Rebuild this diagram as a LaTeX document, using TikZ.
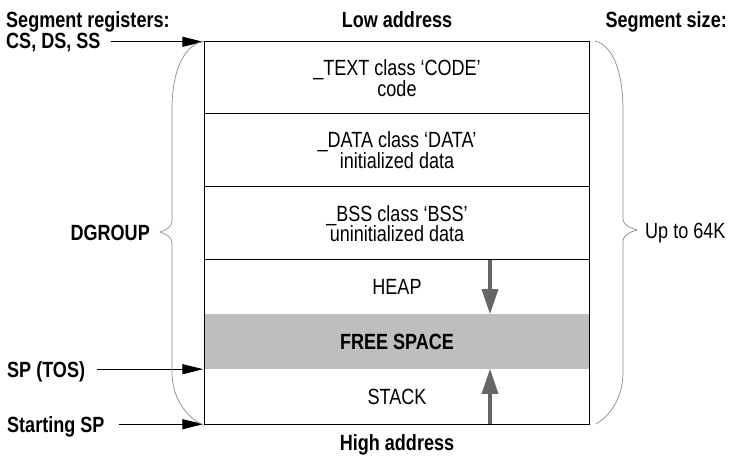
\documentclass[tikz,border=0pt]{standalone}
\usepackage{fontspec}
\setmainfont{Liberation Sans}[FakeStretch=0.82]
\usetikzlibrary{arrows.meta}
\definecolor{freegray}{HTML}{BEBEBE}
\definecolor{growgray}{HTML}{666666}
\definecolor{bracegray}{HTML}{8A8A8A}
\begin{document}
\begin{tikzpicture}[x=1pt,y=-1pt,
  every node/.style={font=\fontsize{22}{20.5}\selectfont, inner sep=0pt},
  lbl/.style={font=\fontsize{22}{20.5}\selectfont\bfseries},
  rowbox/.style={minimum width=384pt, align=center, inner sep=0pt},
  ptr/.style={-{Triangle[length=21pt,width=10pt]}, line width=1.2pt, shorten >=1.5pt},
  growth/.style={-{Triangle[length=25pt,width=16pt]}, line width=3.2pt, draw=growgray, fill=growgray},
  brace/.style={draw=bracegray, line width=0.7pt},
  frame/.style={line width=1.1pt},
  sep/.style={line width=0.9pt}]
\useasboundingbox (0,0) rectangle (731,456);

% memory segments, low address at the top
\node[rowbox, minimum height=72pt] (text) at (397,78) {\_TEXT class ‘CODE’\\code};
\node[rowbox, minimum height=73pt] (data) at (397,150) {\_DATA class ‘DATA’\\initialized data};
\node[rowbox, minimum height=74pt] (bss) at (397,223.5) {\_BSS class ‘BSS’\\uninitialized data};
\node[rowbox, minimum height=54pt] (heap) at (397,287) {HEAP};
\node[rowbox, minimum height=55pt, fill=freegray] (free) at (397,341.5) {\bfseries FREE SPACE};
\node[rowbox, minimum height=55pt] (stack) at (397,396.5) {STACK};

% separators and outer frame
\draw[sep] (data.north west) -- (data.north east);
\draw[sep] (bss.north west) -- (bss.north east);
\draw[sep] (heap.north west) -- (heap.north east);
\draw[frame] (text.north west) rectangle (stack.south east);

% heap grows down, stack grows up
\draw[growth] ([xshift=93pt]heap.north) -- ([xshift=93pt]heap.south);
\draw[growth] ([xshift=93pt]stack.south) -- ([xshift=93pt]stack.north);

% headings
\node[lbl, anchor=base] (low) at (397,27) {Low address};
\node[lbl, anchor=base] (high) at (397,450) {High address};
\node[lbl, anchor=base east] (segsize) at (727,27) {Segment size:};

% register labels and pointers
\node[lbl, anchor=base west] (segreg) at (6,27) {Segment registers:};
\node[lbl, anchor=base west] (cs) at (6,48) {CS, DS, SS};
\node[lbl, anchor=base west] (sptos) at (7,377) {SP (TOS)};
\node[lbl, anchor=base west] (startsp) at (7,432) {Starting SP};
\draw[ptr] ([xshift=10pt]cs.east |- text.north west) -- (text.north west);
\draw[ptr] ([xshift=12pt]sptos.east |- free.south west) -- (free.south west);
\draw[ptr] ([xshift=14pt]startsp.east |- stack.south west) -- (stack.south west);

% group braces
\node[lbl, anchor=east] (dgroup) at (150,233) {DGROUP};
\node[anchor=base west] (upto) at (645,238) {Up to 64K};
\draw[brace] (204,41) .. controls (184,45) and (172,70) .. (172,110)
  -- (172,221) .. controls (172,227) and (166,230) .. (160,232)
  .. controls (166,234) and (172,237) .. (172,243)
  -- (172,372) .. controls (172,398) and (186,416) .. (201,424);
\draw[brace] (595,41) .. controls (612,45) and (623,70) .. (623,110)
  -- (623,219) .. controls (623,225) and (630,228) .. (637,230)
  .. controls (630,232) and (623,235) .. (623,241)
  -- (623,372) .. controls (623,398) and (610,416) .. (596,424);
\end{tikzpicture}
\end{document}
